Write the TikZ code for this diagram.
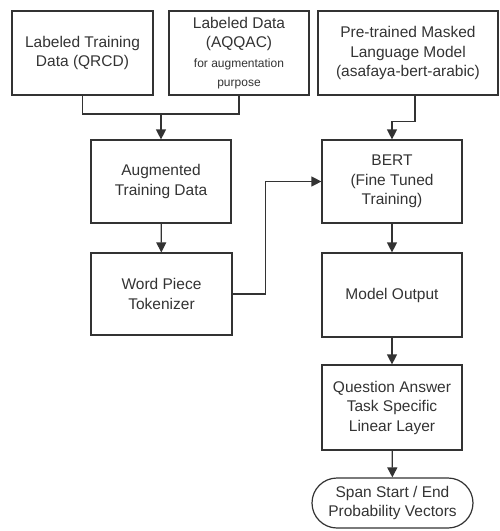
\documentclass[tikz,border=0pt]{standalone}
\usepackage{fontspec}
\setmainfont{Liberation Sans}
\usetikzlibrary{arrows.meta,shapes.misc,calc}
\definecolor{ink}{HTML}{333333}
\begin{document}
\begin{tikzpicture}[x=1pt,y=-1pt,
  every node/.style={text=ink},
  box/.style={draw=ink,line width=1.2pt,rectangle,align=center,inner sep=0pt,
    font=\fontsize{15.5}{19.5}\selectfont},
  term/.style={box,rounded rectangle},
  link/.style={draw=ink,line width=1.2pt},
  arr/.style={link,-{Triangle[length=10pt,width=10pt]}}]
\useasboundingbox (0,0) rectangle (500,531);
% input boxes
\node[box,minimum width=141pt,minimum height=84pt] (qrcd) at (82.5,53) {Labeled Training\\Data (QRCD)};
\node[box,minimum width=140pt,minimum height=84pt] (aqqac) at (239,53)
  {Labeled Data\\(AQQAC)\\{\fontsize{12}{19}\selectfont for augmentation}\\{\fontsize{12}{19}\selectfont purpose}};
\node[box,minimum width=180pt,minimum height=84pt] (plm) at (408,53)
  {Pre-trained Masked\\Language Model\\(asafaya-bert-arabic)};
% left column
\node[box,minimum width=140pt,minimum height=83pt] (aug) at (161,181.5) {Augmented\\Training Data};
\node[box,minimum width=141pt,minimum height=82pt] (wp) at (161.5,294) {Word Piece\\Tokenizer};
% right column
\node[box,minimum width=140pt,minimum height=83pt] (bert) at (392,181.5) {BERT\\(Fine Tuned\\Training)};
\node[box,minimum width=140pt,minimum height=84pt] (out) at (392,295) {Model Output};
\node[box,minimum width=140pt,minimum height=85pt] (qa) at (392,407.5) {Question Answer\\Task Specific\\Linear Layer};
\node[term,minimum width=161pt,minimum height=50pt] (span) at (392.5,503) {Span Start / End\\Probability Vectors};
% connectors
\coordinate (merge) at (161,114);
\draw[link] (qrcd.south) |- (merge) -| (aqqac.south);
\draw[arr] (merge) -- (aug.north);
\draw[arr] (aug) -- (wp);
\draw[arr] (wp.east) -- ++(33,0) |- (bert.west);
\coordinate (plmout) at ($(plm.south)+(7,0)$);
\draw[arr] (plmout) -- ++(0,26) -| (bert.north);
\draw[arr] (bert) -- (out);
\draw[arr] (out) -- (qa);
\draw[arr] (qa) -- (span);
\end{tikzpicture}
\end{document}
